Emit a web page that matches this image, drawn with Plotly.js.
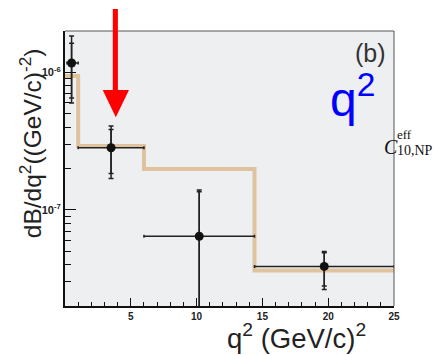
<!DOCTYPE html>
<html>
<head>
<meta charset="utf-8">
<script src="https://cdn.plot.ly/plotly-3.0.1.min.js"></script>
<style>html,body{margin:0;padding:0;background:#fff;}#chart{width:446px;height:355px;}</style>
</head>
<body>
<div id="chart"></div>
<script>
// Data
var binEdges = [0, 1, 6, 14.4, 25];
var histLevels = [9.4e-7, 2.92e-7, 1.98e-7, 3.63e-8];
var pointX = [0.5, 3.5, 10.2, 19.7];
var pointY = [1.17e-6, 2.83e-7, 6.43e-8, 3.88e-8];
var xErrMinus = [0.35, 2.5, 4.2, 5.3];
var xErrPlus = [0.5, 2.5, 4.2, 5.3];
var yErrTotPlus = [6.7e-7, 1.25e-7, 7.5e-8, 1.11e-8];
var yErrTotMinus = [5.7e-7, 1.14e-7, 6.4e-8, 1.24e-8];
var yErrStatPlus = [4.6e-7, 1.02e-7, 7.1e-8, 1.0e-8];
var yErrStatMinus = [5.2e-7, 0.99e-7, 6.4e-8, 1.09e-8];
var xTickVals = [5, 10, 15, 20, 25];
var xTickText = ['5', '10', '15', '20', '25'];
var yMajorTicks = [1e-7, 1e-6];
var yMajorText = ['10<sup>-7</sup>', '10<sup>-6</sup>'];
var yMinorTicks = [3e-8,4e-8,5e-8,6e-8,7e-8,8e-8,9e-8,2e-7,3e-7,4e-7,5e-7,6e-7,7e-7,8e-7,9e-7];

var histY = histLevels.concat([histLevels[histLevels.length-1]]);

var L = 65, T = 31, W = 329, H = 274.6;
function px(X){ return (X - L)/W; }
function py(Y){ return (T + H - Y)/H; }

var traces = [
  {x: binEdges, y: histY, type:'scatter', mode:'lines', line:{shape:'hv', color:'#dfc29e', width:4}, hoverinfo:'skip'},
  {x: pointX, y: pointY, type:'scatter', mode:'markers', marker:{size:0.1, color:'rgba(0,0,0,0)'},
   error_y:{type:'data', symmetric:false, array:yErrStatPlus, arrayminus:yErrStatMinus, color:'#222', thickness:1.5, width:2.5}},
  {x: pointX, y: pointY, type:'scatter', mode:'markers', marker:{size:9, color:'#111'},
   error_y:{type:'data', symmetric:false, array:yErrTotPlus, arrayminus:yErrTotMinus, color:'#222', thickness:1.5, width:2.5},
   error_x:{type:'data', symmetric:false, array:xErrPlus, arrayminus:xErrMinus, color:'#222', thickness:1.5, width:1.5}},
  {x:[null], y:[null], yaxis:'y2', type:'scatter', mode:'markers', showlegend:false}
];

var layout = {
  width:446, height:355,
  margin:{l:L, r:446-L-W, t:T, b:355-T-H},
  paper_bgcolor:'#ffffff', plot_bgcolor:'#eeeff1',
  showlegend:false,
  font:{family:'Liberation Sans, Arial, sans-serif', color:'#222'},
  xaxis:{range:[0,25], tickvals:xTickVals, ticktext:xTickText.map(function(t){return '<b>'+t+'</b>';}),
    ticks:'inside', ticklen:8, tickwidth:1.2, tickcolor:'#111',
    minor:{dtick:1, tick0:0, ticks:'inside', ticklen:4, tickwidth:1, tickcolor:'#111', showgrid:false},
    showgrid:false, zeroline:false, showline:true, linecolor:'#111', linewidth:2,
    tickfont:{size:10, color:'#222'}},
  yaxis:{type:'log', range:[Math.log10(2e-8), Math.log10(2e-6)], tickvals:yMajorTicks,
    ticktext:yMajorText.map(function(t){return '<b>'+t+'</b>';}),
    ticks:'inside', ticklen:11, tickwidth:1.2, tickcolor:'#111', ticklabelstandoff:0,
    showgrid:false, zeroline:false, showline:true, linecolor:'#111', linewidth:2,
    tickfont:{size:11, color:'#222'}},
  yaxis2:{type:'log', overlaying:'y', side:'left', range:[Math.log10(2e-8), Math.log10(2e-6)], tickvals:yMinorTicks,
    ticks:'inside', ticklen:6, tickwidth:1, tickcolor:'#111', showticklabels:false,
    showgrid:false, zeroline:false, showline:false},
  shapes:[
    {type:'line', xref:'paper', yref:'paper', x0:0, x1:1, y0:1, y1:1, line:{color:'#555', width:1}},
    {type:'line', xref:'paper', yref:'paper', x0:1, x1:1, y0:0, y1:1, line:{color:'#555', width:1}},
    {type:'rect', xref:'paper', yref:'paper', x0:px(112.8), x1:px(117.9), y0:py(9), y1:py(91), fillcolor:'#ff0000', line:{width:0}},
    {type:'path', xref:'paper', yref:'paper', path:'M '+px(102.7)+' '+py(90)+' L '+px(129)+' '+py(90)+' L '+px(115.8)+' '+py(117)+' Z', fillcolor:'#ff0000', line:{width:0}}
  ],
  annotations:[
    {xref:'paper', yref:'paper', x:px(30), y:py(143), text:'dB/dq<sup>2</sup>((GeV/c)<sup>-2</sup>)', textangle:-90, showarrow:false,
     xanchor:'center', yanchor:'middle', font:{size:24.5, color:'#222'}},
    {xref:'paper', yref:'paper', x:px(296), y:py(336), text:'q<sup>2</sup> (GeV/c)<sup>2</sup>', showarrow:false,
     xanchor:'center', yanchor:'middle', font:{size:27.5, color:'#222'}},
    {xref:'paper', yref:'paper', x:px(388), y:py(53), text:'(b)', showarrow:false,
     xanchor:'right', yanchor:'middle', font:{size:25, color:'#333'}},
    {xref:'paper', yref:'paper', x:px(377), y:py(96), text:'q<sup>2</sup>', showarrow:false,
     xanchor:'right', yanchor:'middle', font:{size:48, color:'#0000ff'}},
    {xref:'paper', yref:'paper', x:px(382), y:py(147), text:'<i>C</i>', showarrow:false,
     xanchor:'left', yanchor:'middle', font:{size:20, family:'Liberation Serif, Times New Roman, serif', color:'#111'}},
    {xref:'paper', yref:'paper', x:px(395), y:py(134), text:'eff', showarrow:false,
     xanchor:'left', yanchor:'middle', font:{size:13, family:'Liberation Serif, Times New Roman, serif', color:'#111'}},
    {xref:'paper', yref:'paper', x:px(395), y:py(150), text:'10,NP', showarrow:false,
     xanchor:'left', yanchor:'middle', font:{size:14, family:'Liberation Serif, Times New Roman, serif', color:'#111'}}
  ]
};

Plotly.newPlot('chart', traces, layout, {staticPlot:true, displayModeBar:false});
</script>
</body>
</html>
